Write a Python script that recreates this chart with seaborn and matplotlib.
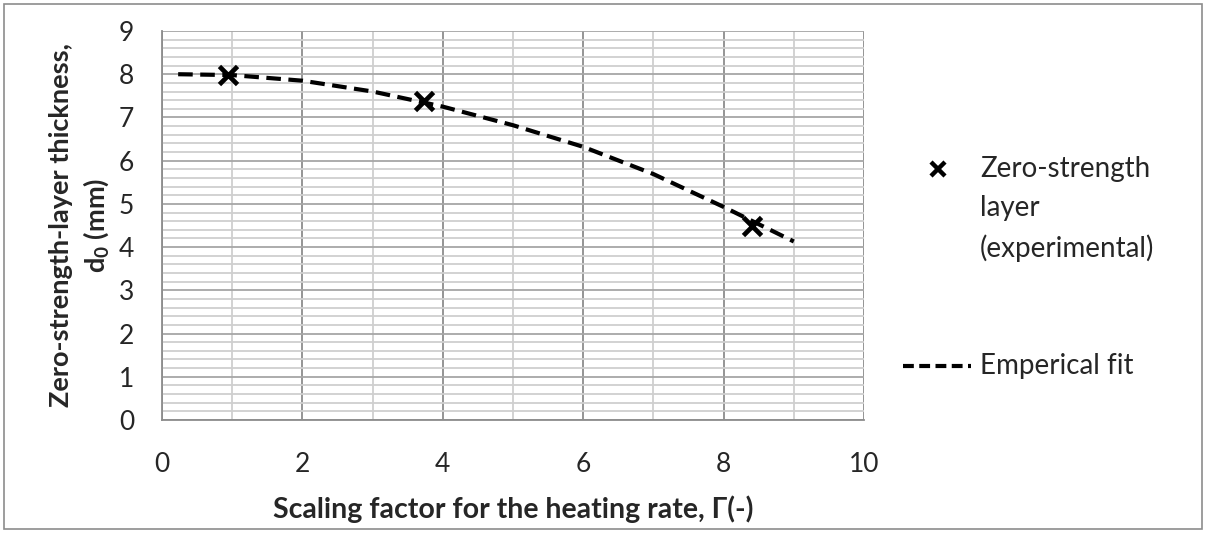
import numpy as np
import pandas as pd
import matplotlib
matplotlib.use("Agg")
import matplotlib.pyplot as plt
from matplotlib.patches import Rectangle
from matplotlib.lines import Line2D
from matplotlib.ticker import MultipleLocator
import seaborn as sns

# Experimental data
gamma_exp = [0.94, 3.73, 8.40]
d0_exp = [7.98, 7.37, 4.49]

gamma_fit = [0.23, 1.0, 2.0, 3.0, 4.0, 5.0, 6.0, 7.0, 8.0, 9.0]
d0_fit = [8.00, 7.98, 7.85, 7.60, 7.25, 6.82, 6.32, 5.69, 4.93, 4.13]

x_label = "Scaling factor for the heating rate, Γ(-)"
y_label = "Zero-strength-layer thickness,\n" + r"$\mathbf{d_0}$" + " (mm)"
legend_exp_lines = ["Zero-strength", "layer", "(experimental)"]
legend_fit = "Emperical fit"

sns.set_theme(style="white")
plt.rcParams['font.family'] = ['Lato', 'DejaVu Sans']
plt.rcParams['mathtext.fontset'] = 'custom'
plt.rcParams['mathtext.bf'] = 'Lato:bold'
plt.rcParams['mathtext.rm'] = 'Lato'

W, H = 1206, 533
fig = plt.figure(figsize=(W/100, H/100), dpi=100)
ax = fig.add_axes([162/W, 1-420/H, (864-162)/W, (420-31)/H])

df_exp = pd.DataFrame({"g": gamma_exp, "d": d0_exp})
df_fit = pd.DataFrame({"g": gamma_fit, "d": d0_fit})

sns.lineplot(data=df_fit, x="g", y="d", ax=ax, color="black", lw=3.0,
             zorder=3, sort=True)
ax.lines[-1].set_dashes((3.5, 1.8))
sns.scatterplot(data=df_exp, x="g", y="d", ax=ax, marker="x", s=170,
                color="black", linewidth=3.4, zorder=4)

ax.set_xlim(0, 10)
ax.set_ylim(0, 9)
ax.xaxis.set_major_locator(MultipleLocator(2))
ax.xaxis.set_minor_locator(MultipleLocator(1))
ax.yaxis.set_major_locator(MultipleLocator(1))
ax.yaxis.set_minor_locator(MultipleLocator(0.2))

ax.grid(which="major", axis="x", color="#8c8c8c", lw=1.3)
ax.grid(which="minor", axis="x", color="#cfcfcf", lw=1.3)
ax.grid(which="major", axis="y", color="#a6a6a6", lw=1.3)
ax.grid(which="minor", axis="y", color="#cfcfcf", lw=1.3)
ax.set_axisbelow(True)

for s in ["top", "right"]:
    ax.spines[s].set_visible(False)
for s in ["left", "bottom"]:
    ax.spines[s].set_color("#8c8c8c")
    ax.spines[s].set_linewidth(1.3)

ax.tick_params(which="major", axis="both", direction="out", length=7,
               width=1.3, color="#8c8c8c", labelsize=19)
ax.tick_params(which="minor", axis="both", length=0)
ax.tick_params(axis="x", pad=16)
ax.tick_params(axis="y", pad=13)

ax.set_xlabel(x_label, fontsize=20.5, fontweight="bold", labelpad=13)
ax.set_ylabel(y_label, fontsize=19.5, fontweight="bold", labelpad=6,
              linespacing=1.35)

# Legend (placed to match the reference layout)
fs_leg = 20
fig.add_artist(Line2D([938/W], [1-169/H], marker="x", color="black", lw=0,
                      markersize=10, mew=3.2, transform=fig.transFigure))
fig.text(980/W, 1-169/H, legend_exp_lines[0], fontsize=fs_leg, va="center", ha="left")
fig.text(980/W, 1-208/H, legend_exp_lines[1], fontsize=fs_leg, va="center", ha="left")
fig.text(980/W, 1-248/H, legend_exp_lines[2], fontsize=fs_leg, va="center", ha="left")
fig.add_artist(Line2D([903/W, 971/W], [1-366/H, 1-366/H], color="black", lw=3,
                      dashes=(2.6, 1.3), transform=fig.transFigure))
fig.text(980/W, 1-366/H, legend_fit, fontsize=fs_leg, va="center", ha="left")

fig.patches.append(Rectangle((4/W, 4/H), 1-8/W, 1-8/H, transform=fig.transFigure,
                             fill=False, edgecolor="#8c8c8c", lw=1.2))

fig.savefig("out.png", dpi=100)
